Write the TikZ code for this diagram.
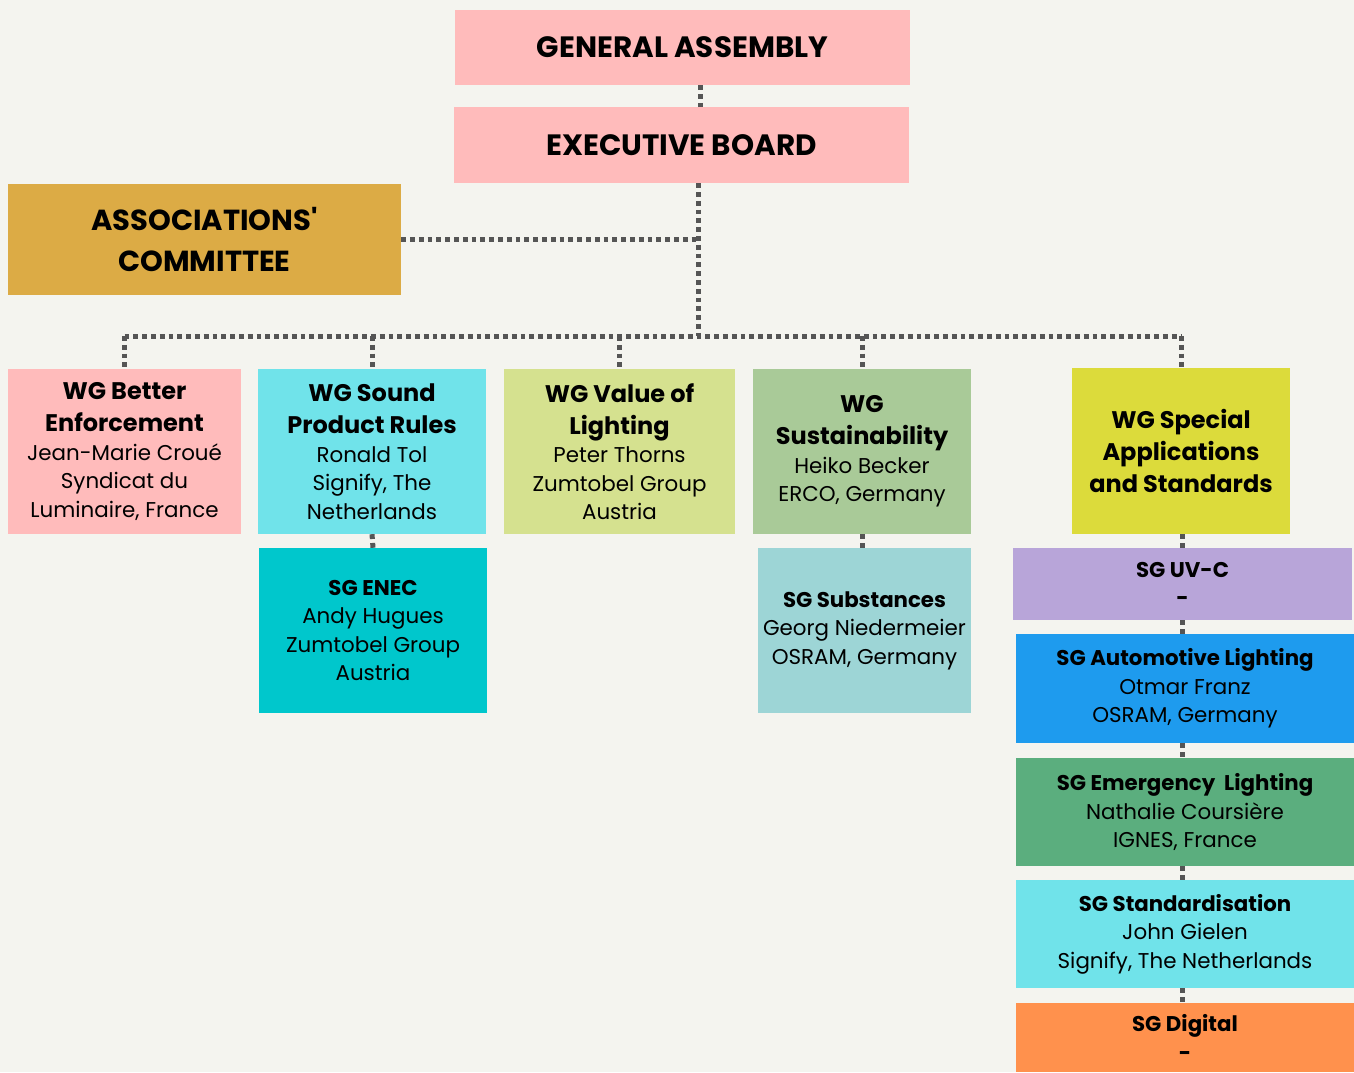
\documentclass[tikz,border=0pt]{standalone}
\usepackage{fontspec}
\setmainfont{Poppins}
\definecolor{bg}{HTML}{F4F4EF}
\definecolor{cpink}{HTML}{FFBBBB}
\definecolor{cgold}{HTML}{DCAB45}
\definecolor{ccyan}{HTML}{70E3EA}
\definecolor{clime}{HTML}{D5E18F}
\definecolor{csage}{HTML}{A9CA98}
\definecolor{cyell}{HTML}{DCDB3B}
\definecolor{cteal}{HTML}{00C7CC}
\definecolor{cpale}{HTML}{9DD5D6}
\definecolor{cviol}{HTML}{B8A5D9}
\definecolor{cblue}{HTML}{1E9BEE}
\definecolor{cgreen}{HTML}{5BAE7E}
\definecolor{corange}{HTML}{FF914D}
\definecolor{cline}{HTML}{555555}
\newcommand{\wgt}[1]{{\bfseries\fontsize{24}{32}\selectfont #1}}
\newcommand{\sgt}[1]{{\bfseries\fontsize{21.3}{28.5}\selectfont #1}}
\begin{document}
\begin{tikzpicture}[x=1pt,y=-1pt,
  box/.style={inner sep=0pt, align=center, font=\fontsize{21.4}{28.5}\selectfont},
  bigbox/.style={inner sep=0pt, align=center, font=\bfseries\fontsize{29.4}{41}\selectfont},
  conn/.style={draw=cline, line width=5pt, dash pattern=on 4.8pt off 4pt}]
\fill[bg] (0,0) rectangle (1354,1072);
\useasboundingbox (0,0) rectangle (1354,1072);
% top
\node[bigbox, fill=cpink, minimum width=455pt, minimum height=75pt] (ga) at (682.5,47.5) {GENERAL ASSEMBLY};
\node[bigbox, fill=cpink, minimum width=455pt, minimum height=76pt] (eb) at (681.5,145) {EXECUTIVE BOARD};
\node[bigbox, font=\bfseries\fontsize{29}{41}\selectfont, fill=cgold, minimum width=393pt, minimum height=111pt] (ac) at (204.5,239.5) {ASSOCIATIONS\textquotesingle\\COMMITTEE};
% working groups
\node[box, fill=cpink, minimum width=233pt, minimum height=165pt] (wgbe) at (124.5,451.5)
  {\wgt{WG Better}\\[3.5pt]\wgt{Enforcement}\\Jean-Marie Croué\\Syndicat du\\Luminaire, France};
\node[box, fill=ccyan, minimum width=228pt, minimum height=165pt] (wgsr) at (372,451.5)
  {\wgt{WG Sound}\\[3.5pt]\wgt{Product Rules}\\Ronald Tol\\Signify, The\\Netherlands};
\node[box, fill=clime, minimum width=231pt, minimum height=165pt] (wgvl) at (619.5,451.5)
  {\wgt{WG Value of}\\[3.5pt]\wgt{Lighting}\\Peter Thorns\\Zumtobel Group\\Austria};
\node[box, fill=csage, minimum width=218pt, minimum height=165pt] (wgsu) at (862,451.5)
  {\wgt{WG}\\[3.5pt]\wgt{Sustainability}\\Heiko Becker\\ERCO, Germany};
\node[box, fill=cyell, minimum width=218pt, minimum height=166pt] (wgsa) at (1181,451)
  {\wgt{WG Special}\\[3.5pt]\wgt{Applications}\\[3.5pt]\wgt{and Standards}};
% sub groups
\node[box, fill=cteal, minimum width=228pt, minimum height=165pt] (enec) at (373,630.5)
  {\sgt{SG ENEC}\\Andy Hugues\\Zumtobel Group\\Austria};
\node[box, fill=cpale, minimum width=213pt, minimum height=165pt] (subs) at (864.5,630.5)
  {\sgt{SG Substances}\\Georg Niedermeier\\OSRAM, Germany};
\node[box, fill=cviol, minimum width=339pt, minimum height=72pt] (uvc) at (1182.5,584)
  {\sgt{SG UV-C}\\\sgt{-}};
\node[box, fill=cblue, minimum width=338pt, minimum height=109pt] (auto) at (1185,688.5)
  {\sgt{SG Automotive Lighting}\\Otmar Franz\\OSRAM, Germany};
\node[box, fill=cgreen, minimum width=338pt, minimum height=108pt] (emer) at (1185,812)
  {\sgt{SG Emergency\ \ Lighting}\\Nathalie Coursière\\IGNES, France};
\node[box, fill=ccyan, minimum width=338pt, minimum height=108pt] (std) at (1185,934)
  {\sgt{SG Standardisation}\\John Gielen\\Signify, The Netherlands};
\node[box, fill=corange, minimum width=338pt, minimum height=69pt] (dig) at (1185,1037.5)
  {\sgt{SG Digital}\\\sgt{-}};
% connectors
\coordinate (j) at (698,336);
\coordinate (k) at (700,0);
\coordinate (m) at (1182,0);
\draw[conn] (ga.south -| k) -- (eb.north -| k);
\draw[conn] (eb.south -| j) -- (j);
\draw[conn] (ac.east) -- (ac.east -| j);
\draw[conn] (wgbe.north |- j) -- (wgsa.north |- j);
\foreach \n in {wgbe,wgsr,wgvl,wgsu,wgsa}{
  \draw[conn] (\n.north |- j) -- (\n.north);
}
\draw[conn] (wgsr.south) -- (enec.north);
\draw[conn] (wgsu.south) -- (wgsu.south |- subs.north);
\draw[conn] (wgsa.south -| m) -- (uvc.north -| m);
\draw[conn] (uvc.south -| m) -- (auto.north -| m);
\draw[conn] (auto.south -| m) -- (emer.north -| m);
\draw[conn] (emer.south -| m) -- (std.north -| m);
\draw[conn] (std.south -| m) -- (dig.north -| m);
\end{tikzpicture}
\end{document}
